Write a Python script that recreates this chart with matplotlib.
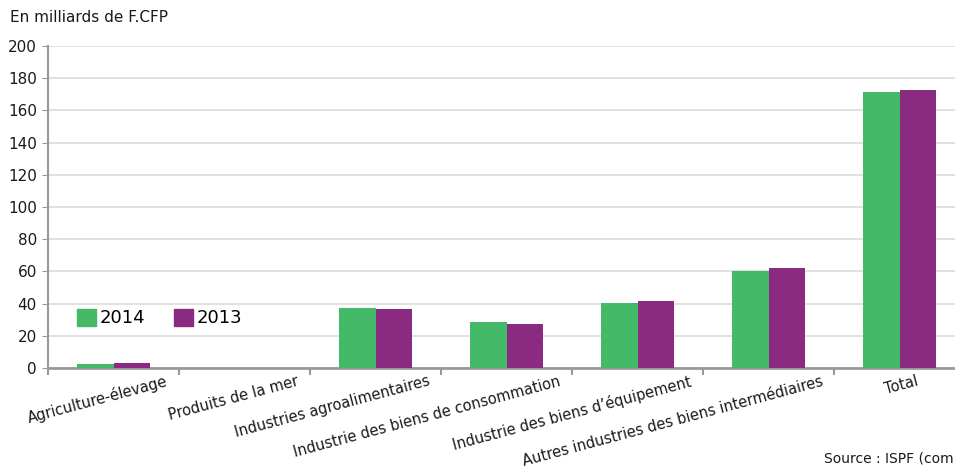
import matplotlib.pyplot as plt
import matplotlib.transforms as mtransforms
from matplotlib.patches import Patch
import numpy as np

categories = ['Agriculture-élevage', 'Produits de la mer', 'Industries agroalimentaires',
              'Industrie des biens de consommation', 'Industrie des biens d\u2019équipement',
              'Autres industries des biens intermédiaires', 'Total']
val_2014 = [2.2, 0.3, 37.2, 28.4, 40.5, 60.4, 171.2]
val_2013 = [2.8, 0.3, 36.5, 27.2, 41.8, 62.2, 172.4]
yticks = [0, 20, 40, 60, 80, 100, 120, 140, 160, 180, 200]

green = '#44b968'
purple = '#8a2a80'
plt.rcParams['font.family'] = ['DejaVu Sans']

fig = plt.figure(figsize=(9.55, 4.68), dpi=100)
ax = fig.add_axes([48 / 955, 100 / 468, 917 / 955, 322 / 468])

x = np.arange(len(categories))
w = 0.282
ax.bar(x - w / 2, val_2014, w, color=green, edgecolor='none', zorder=3)
ax.bar(x + w / 2, val_2013, w, color=purple, edgecolor='none', zorder=3)

ax.set_xlim(-0.5, len(categories) - 0.5)
ax.set_ylim(0, 200)
ax.set_yticks(yticks)
ax.set_yticklabels([str(v) for v in yticks], fontsize=11, color='#1a1a1a')
ax.yaxis.grid(True, color='#dcdcdc', linewidth=1.2, zorder=0)
ax.tick_params(axis='y', length=4, color='#999999', pad=4)

# category boundary ticks
ax.set_xticks(np.arange(len(categories) + 1) - 0.5, minor=True)
ax.tick_params(axis='x', which='minor', length=5, color='#999999', width=1.5)
ax.set_xticks(x)
ax.set_xticklabels(categories, fontsize=10.5, color='#1a1a1a', rotation=15,
                   ha='right', rotation_mode='anchor')
ax.tick_params(axis='x', which='major', length=0, pad=4)
for i, lab in enumerate(ax.get_xticklabels()):
    dx = 16 if i == len(categories) - 1 else 52
    lab.set_transform(lab.get_transform() +
                      mtransforms.ScaledTranslation(dx / 100, 0, fig.dpi_scale_trans))

for s in ['top', 'right']:
    ax.spines[s].set_visible(False)
ax.spines['left'].set_color('#999999')
ax.spines['left'].set_linewidth(1.5)
ax.spines['bottom'].set_color('#999999')
ax.spines['bottom'].set_linewidth(2)

handles = [Patch(color=green, label='2014'), Patch(color=purple, label='2013')]
ax.legend(handles=handles, loc='center left', bbox_to_anchor=(0.014, 0.155), ncol=2,
          frameon=False, fontsize=13, handlelength=1.05, handleheight=1.05,
          handletextpad=0.2, columnspacing=1.6)

fig.text(10 / 955, 1 - 17 / 468, 'En milliards de F.CFP', fontsize=11, color='#1a1a1a', va='center')
fig.text(824 / 955, 1 - 462 / 468, 'Source : ISPF (com', fontsize=10,
         color='#1a1a1a', va='baseline')

fig.savefig('out.png', dpi=100)
